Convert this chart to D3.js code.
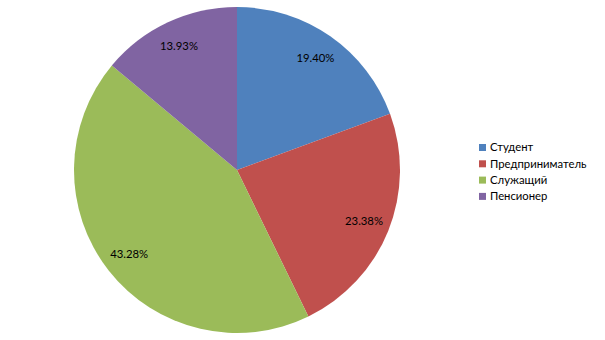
<!DOCTYPE html>
<html>
<head>
<meta charset="utf-8">
<script src="https://cdn.jsdelivr.net/npm/d3@7"></script>
<style>
    body { margin: 0; background: #fff; }
    text { font-family: Lato, "Liberation Sans", sans-serif; font-size: 11.3px; fill: #000; }
</style>
</head>
<body>
<div id="chart"></div>
<script>
// data
var categories = ["Студент", "Предприниматель", "Служащий", "Пенсионер"];
var shares = [19.40, 23.38, 43.28, 13.93];
var colors = ["#4F81BD", "#C0504D", "#9BBB59", "#8064A2"];

var width = 605, height = 340;
var cx = 237, cy = 170, radius = 163;

var svg = d3.select("#chart")
    .append("svg")
    .attr("width", width)
    .attr("height", height);

var pie = d3.pie().sort(null).value(function (d) { return d; });
var arcs = pie(shares);

var arc = d3.arc().innerRadius(0).outerRadius(radius);
var labelArc = d3.arc().innerRadius(radius * 0.84).outerRadius(radius * 0.84);

var g = svg.append("g")
    .attr("transform", "translate(" + cx + "," + cy + ")");

g.selectAll("path")
    .data(arcs)
    .enter()
    .append("path")
    .attr("d", arc)
    .attr("fill", function (d, i) { return colors[i]; });

g.selectAll("text.lbl")
    .data(arcs)
    .enter()
    .append("text")
    .attr("class", "lbl")
    .attr("transform", function (d) { return "translate(" + labelArc.centroid(d) + ")"; })
    .attr("text-anchor", "middle")
    .attr("dy", "0.35em")
    .text(function (d) { return d.data.toFixed(2) + "%"; });

// legend
var legend = svg.append("g")
    .attr("transform", "translate(479,144)");

var rows = legend.selectAll("g")
    .data(categories)
    .enter()
    .append("g")
    .attr("transform", function (d, i) { return "translate(0," + (i * 16.3) + ")"; });

rows.append("rect")
    .attr("width", 7)
    .attr("height", 7)
    .attr("fill", function (d, i) { return colors[i]; });

rows.append("text")
    .attr("x", 11)
    .attr("y", 3.5)
    .attr("dy", "0.35em")
    .text(function (d) { return d; });
</script>
</body>
</html>
